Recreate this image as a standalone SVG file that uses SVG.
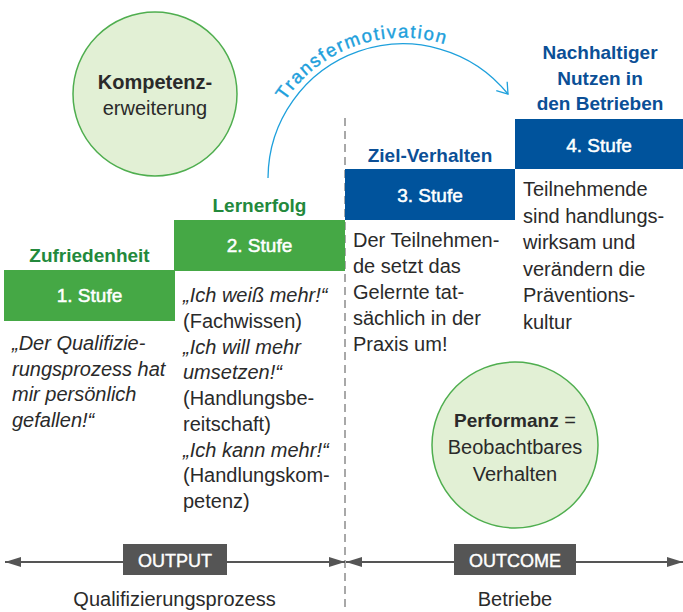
<svg xmlns="http://www.w3.org/2000/svg" width="683" height="612" viewBox="0 0 683 612">
<style>
text{font-family:"Liberation Sans",Arial,sans-serif;}
.body{font-size:20px;fill:#2a2a2a;}
.it{font-style:italic;}
.hg{font-size:19px;font-weight:bold;fill:#23893c;text-anchor:middle;}
.hb{font-size:19px;font-weight:bold;fill:#0b4f96;text-anchor:middle;}
.stufe{font-size:19px;fill:#ffffff;stroke:#ffffff;stroke-width:0.5;text-anchor:middle;}
.green{fill:#45a845;}
.blue{fill:#00539c;}
.circ{fill:#e2f0d5;stroke:#4fae4f;stroke-width:1.5;}
.ct{font-size:20px;fill:#2a2a2a;text-anchor:middle;}
.lab{fill:#555555;}
.labt{font-size:18px;fill:#ffffff;stroke:#ffffff;stroke-width:0.4;text-anchor:middle;}
.axis{stroke:#555555;stroke-width:2;fill:none;}
</style>
<defs>
<marker id="tri" viewBox="0 0 16 10" markerWidth="16" markerHeight="10" refX="16" refY="5" orient="auto-start-reverse" markerUnits="userSpaceOnUse">
<path d="M0,0 L16,5 L0,10 z" fill="#555555"/>
</marker>
<marker id="vee" viewBox="0 0 12 16" markerWidth="12" markerHeight="16" refX="11" refY="8" orient="auto" markerUnits="userSpaceOnUse">
<path d="M1,1 L11,8 L1,15" fill="none" stroke="#1ea0dc" stroke-width="1.3"/>
</marker>
<path id="tp" d="M285,101 A141,141 0 0 1 474,57"/>
</defs>

<g id="connectors">
<line x1="345" y1="118" x2="345" y2="612" stroke="#a8a8a8" stroke-width="2" stroke-dasharray="8,5"/>
<path d="M268,178 A135,135 0 0 1 508,94" fill="none" stroke="#1ea0dc" stroke-width="1.3" marker-end="url(#vee)"/>
<text font-size="18.5" fill="#1ea0dc" stroke="#1ea0dc" stroke-width="0.4" letter-spacing="1.7"><textPath href="#tp">Transfermotivation</textPath></text>
<path class="axis" d="M5,562 L345,562" marker-start="url(#tri)" marker-end="url(#tri)"/>
<path class="axis" d="M346,562 L683,562" marker-start="url(#tri)" marker-end="url(#tri)"/>
</g>

<g id="circle-kompetenz">
<circle class="circ" cx="155" cy="94" r="82"/>
<text class="ct" x="155" y="89" font-weight="bold" font-size="19">Kompetenz-</text>
<text class="ct" x="155" y="115">erweiterung</text>
</g>

<g id="stufe1">
<text class="hg" x="89.5" y="262">Zufriedenheit</text>
<rect class="green" x="4" y="270" width="171" height="51"/>
<text class="stufe" x="89.5" y="302">1. Stufe</text>
<text class="body it" x="12" y="350">„Der Qualifizie-</text>
<text class="body it" x="12" y="376">rungsprozess hat</text>
<text class="body it" x="12" y="401">mir persönlich</text>
<text class="body it" x="12" y="427">gefallen!“</text>
</g>

<g id="stufe2">
<text class="hg" x="259.5" y="212">Lernerfolg</text>
<rect class="green" x="174" y="220" width="171" height="51"/>
<text class="stufe" x="259.5" y="252">2. Stufe</text>
<text class="body it" x="183" y="302">„Ich weiß mehr!“</text>
<text class="body" x="183" y="328">(Fachwissen)</text>
<text class="body it" x="183" y="354">„Ich will mehr</text>
<text class="body it" x="183" y="379">umsetzen!“</text>
<text class="body" x="183" y="405">(Handlungsbe-</text>
<text class="body" x="183" y="431">reitschaft)</text>
<text class="body it" x="183" y="457">„Ich kann mehr!“</text>
<text class="body" x="183" y="482">(Handlungskom-</text>
<text class="body" x="183" y="508">petenz)</text>
</g>

<g id="stufe3">
<text class="hb" x="430" y="162">Ziel-Verhalten</text>
<rect class="blue" x="345" y="169" width="170" height="51"/>
<text class="stufe" x="430" y="202">3. Stufe</text>
<text class="body" x="353" y="247">Der Teilnehmen-</text>
<text class="body" x="353" y="273">de setzt das</text>
<text class="body" x="353" y="299">Gelernte tat-</text>
<text class="body" x="353" y="325">sächlich in der</text>
<text class="body" x="353" y="351">Praxis um!</text>
</g>

<g id="stufe4">
<text class="hb" x="600" y="59">Nachhaltiger</text>
<text class="hb" x="600" y="85">Nutzen in</text>
<text class="hb" x="600" y="110">den Betrieben</text>
<rect class="blue" x="515" y="119" width="168" height="50"/>
<text class="stufe" x="599" y="152">4. Stufe</text>
<text class="body" x="523" y="196">Teilnehmende</text>
<text class="body" x="523" y="223">sind handlungs-</text>
<text class="body" x="523" y="249">wirksam und</text>
<text class="body" x="523" y="276">verändern die</text>
<text class="body" x="523" y="302">Präventions-</text>
<text class="body" x="523" y="329">kultur</text>
</g>

<g id="circle-performanz">
<circle class="circ" cx="515" cy="445" r="83"/>
<text class="ct" x="515" y="427"><tspan font-weight="bold" font-size="19">Performanz</tspan> =</text>
<text class="ct" x="515" y="454">Beobachtbares</text>
<text class="ct" x="515" y="481">Verhalten</text>
</g>

<g id="output">
<rect class="lab" x="123" y="544" width="104" height="31"/>
<text class="labt" x="175" y="567">OUTPUT</text>
<text class="ct" x="174.5" y="606" font-size="20.5">Qualifizierungsprozess</text>
</g>

<g id="outcome">
<rect class="lab" x="454" y="544" width="122" height="31"/>
<text class="labt" x="515" y="567">OUTCOME</text>
<text class="ct" x="515" y="606" font-size="20.5">Betriebe</text>
</g>
</svg>
